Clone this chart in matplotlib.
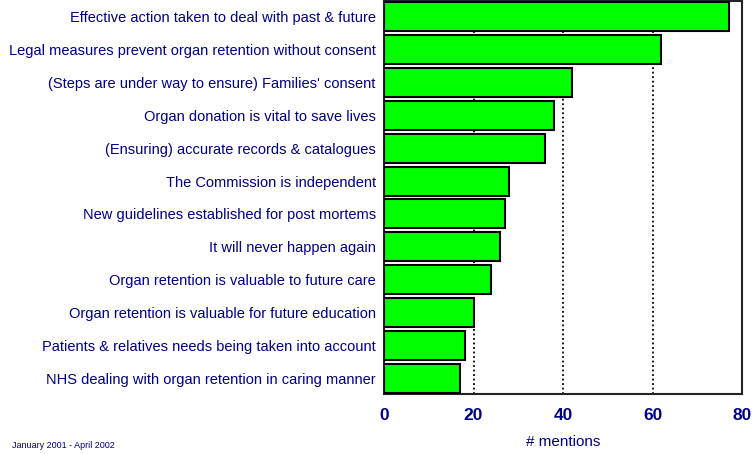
import matplotlib.pyplot as plt

# survey data: number of mentions per theme
categories = [
    "Effective action taken to deal with past & future",
    "Legal measures prevent organ retention without consent",
    "(Steps are under way to ensure) Families' consent",
    "Organ donation is vital to save lives",
    "(Ensuring) accurate records & catalogues",
    "The Commission is independent",
    "New guidelines established for post mortems",
    "It will never happen again",
    "Organ retention is valuable to future care",
    "Organ retention is valuable for future education",
    "Patients & relatives needs being taken into account",
    "NHS dealing with organ retention in caring manner",
]
mentions = [77, 62, 42, 38, 36, 28, 27, 26, 24, 20, 18, 17]
xticks = [0, 20, 40, 60, 80]

navy = "#000080"
plt.rcParams["font.family"] = ["Liberation Sans", "DejaVu Sans"]

fig = plt.figure(figsize=(7.54, 4.54), dpi=100)
ax = fig.add_axes([384 / 754, 1 - 394 / 454, (742 - 384) / 754, 393 / 454])

ypos = list(range(len(categories)))
ax.barh(ypos, mentions, height=0.88, color="#00ff00", edgecolor="black",
        linewidth=1.5, zorder=3)

ax.set_xlim(0, 80)
ax.set_ylim(11.47, -0.47)
ax.set_yticks(ypos)
ax.set_yticklabels(categories, fontsize=10.5, color=navy)
ax.set_xticks(xticks)
ax.set_xticklabels([str(v) for v in xticks], fontsize=12.5, fontweight="bold", color=navy)
ax.tick_params(axis="y", length=0, pad=6)
ax.tick_params(axis="x", length=0, pad=10)

ax.grid(axis="x", linestyle=(0, (1, 1.5)), color="black", linewidth=1.3, zorder=0)
for s in ax.spines.values():
    s.set_color("#222222")
    s.set_linewidth(1.5)

ax.set_xlabel("# mentions", fontsize=11, color=navy, labelpad=9)
fig.text(12 / 754, 1 - 445 / 454, "January 2001 - April 2002", fontsize=6.5,
         color=navy, va="center", ha="left")

fig.savefig("out.png", dpi=100)
